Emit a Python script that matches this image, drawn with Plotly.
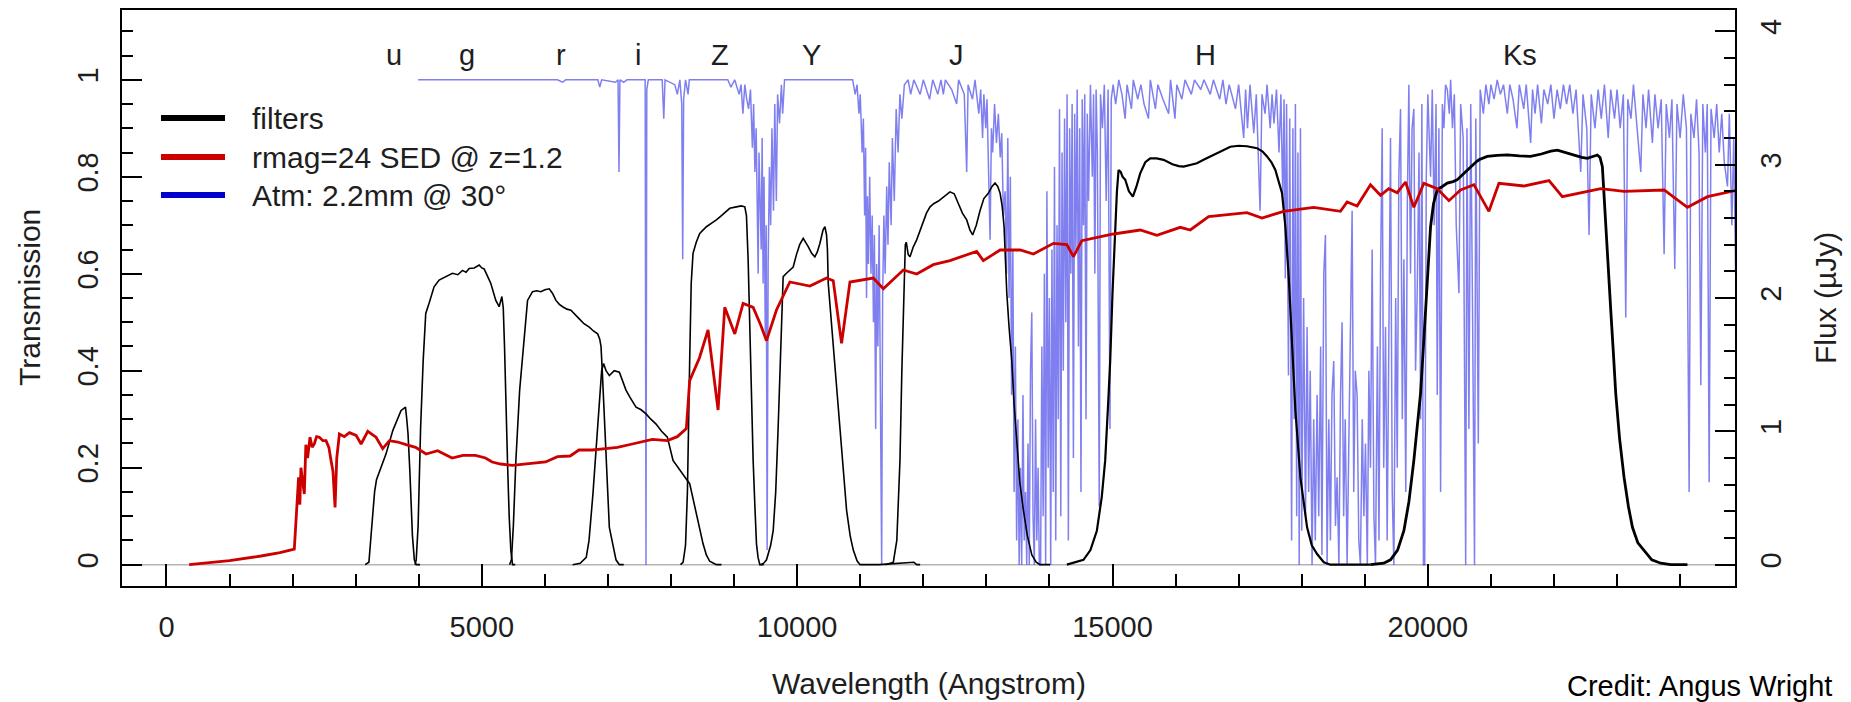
import plotly.graph_objects as go

# ---------------------------------------------------------------- data
# Filter transmission curves (wavelength in Angstrom, transmission 0-1)
u_wave = [3150, 3210, 3250, 3300, 3330, 3400, 3480, 3590, 3670, 3720, 3760, 3790, 3810, 3830, 3860, 3880, 3900, 3930, 3960, 4020]
u_trans = [0.0, 0.005, 0.07, 0.15, 0.175, 0.2, 0.228, 0.277, 0.30, 0.318, 0.322, 0.325, 0.30, 0.27, 0.19, 0.13, 0.06, 0.01, 0.0, 0.0]

g_wave = [3940, 3960, 3990, 4030, 4070, 4111, 4164, 4243, 4323, 4450, 4534, 4620, 4693, 4750, 4799, 4880, 4958, 5000, 5037, 5090, 5143, 5222, 5275, 5318, 5340, 5360, 5381, 5410, 5434, 5460, 5487, 5530]
g_trans = [0.0, 0.01, 0.08, 0.284, 0.42, 0.518, 0.539, 0.573, 0.587, 0.595, 0.601, 0.598, 0.607, 0.603, 0.611, 0.612, 0.618, 0.612, 0.61, 0.595, 0.58, 0.545, 0.532, 0.553, 0.53, 0.45, 0.33, 0.2, 0.1, 0.03, 0.0, 0.0]

r_wave = [5440, 5470, 5500, 5540, 5600, 5672, 5725, 5804, 5870, 5937, 6000, 6069, 6120, 6175, 6230, 6281, 6350, 6413, 6480, 6545, 6620, 6704, 6770, 6837, 6870, 6890, 6910, 6940, 6969, 7000, 7022, 7050, 7075, 7100, 7128, 7180, 7250]
r_trans = [0.0, 0.01, 0.08, 0.215, 0.36, 0.476, 0.545, 0.563, 0.565, 0.563, 0.567, 0.569, 0.56, 0.545, 0.537, 0.532, 0.527, 0.525, 0.515, 0.507, 0.497, 0.49, 0.482, 0.476, 0.465, 0.45, 0.40, 0.30, 0.215, 0.14, 0.077, 0.06, 0.04, 0.03, 0.01, 0.0, 0.0]

i_wave = [6440, 6560, 6656, 6700, 6762, 6820, 6868, 6900, 6931, 6970, 7022, 7100, 7181, 7230, 7286, 7350, 7445, 7520, 7604, 7680, 7763, 7850, 7942, 8032, 8110, 8191, 8250, 8296, 8350, 8402, 8460, 8508, 8560, 8613, 8719, 8800]
i_trans = [0.0, 0.003, 0.015, 0.05, 0.146, 0.26, 0.353, 0.40, 0.415, 0.40, 0.39, 0.40, 0.397, 0.38, 0.36, 0.345, 0.325, 0.32, 0.311, 0.30, 0.29, 0.275, 0.263, 0.215, 0.20, 0.187, 0.175, 0.167, 0.135, 0.105, 0.07, 0.043, 0.02, 0.007, 0.0, 0.0]

Z_wave = [8150, 8191, 8230, 8260, 8296, 8320, 8349, 8400, 8455, 8561, 8650, 8719, 8800, 8880, 8931, 9037, 9110, 9170, 9196, 9223, 9240, 9260, 9280, 9302, 9330, 9355, 9380, 9408, 9470]
Z_trans = [0.0, 0.005, 0.04, 0.15, 0.421, 0.58, 0.642, 0.665, 0.683, 0.697, 0.705, 0.711, 0.72, 0.73, 0.735, 0.738, 0.74, 0.738, 0.72, 0.628, 0.53, 0.421, 0.30, 0.215, 0.12, 0.043, 0.015, 0.0, 0.0]

Y_wave = [9420, 9470, 9514, 9580, 9620, 9660, 9699, 9740, 9778, 9831, 9880, 9937, 9990, 10040, 10096, 10140, 10175, 10230, 10281, 10320, 10361, 10410, 10440, 10466, 10480, 10493, 10530, 10572, 10620, 10678, 10730, 10784, 10840, 10890, 10950, 10996, 11300, 11500, 11700, 11850, 11895, 11950]
Y_trans = [0.0, 0.003, 0.01, 0.04, 0.07, 0.15, 0.284, 0.45, 0.594, 0.601, 0.608, 0.614, 0.64, 0.66, 0.673, 0.665, 0.656, 0.642, 0.635, 0.645, 0.663, 0.69, 0.697, 0.68, 0.65, 0.58, 0.52, 0.456, 0.37, 0.284, 0.19, 0.112, 0.06, 0.03, 0.008, 0.0, 0.0, 0.002, 0.003, 0.005, 0.0, 0.0]

J_wave = [11400, 11525, 11580, 11630, 11660, 11694, 11715, 11730, 11760, 11789, 11840, 11895, 11950, 12001, 12050, 12107, 12170, 12240, 12330, 12423, 12490, 12556, 12620, 12688, 12740, 12783, 12840, 12899, 12960, 13031, 13090, 13137, 13180, 13218, 13250, 13281, 13300, 13324, 13360, 13403, 13440, 13482, 13530, 13588, 13650, 13721, 13790, 13853, 14011]
J_trans = [0.0, 0.005, 0.05, 0.215, 0.40, 0.56, 0.66, 0.665, 0.64, 0.635, 0.655, 0.67, 0.69, 0.711, 0.725, 0.738, 0.745, 0.75, 0.76, 0.769, 0.765, 0.745, 0.725, 0.711, 0.69, 0.68, 0.70, 0.73, 0.755, 0.766, 0.78, 0.787, 0.78, 0.766, 0.74, 0.697, 0.63, 0.56, 0.49, 0.421, 0.33, 0.25, 0.17, 0.112, 0.06, 0.02, 0.005, 0.0, 0.0]

H_wave = [14276, 14540, 14650, 14752, 14830, 14884, 14930, 14964, 15000, 15043, 15070, 15096, 15130, 15160, 15202, 15260, 15323, 15380, 15439, 15520, 15598, 15700, 15810, 15950, 16050, 16127, 16230, 16339, 16444, 16550, 16656, 16760, 16868, 17000, 17132, 17291, 17380, 17450, 17520, 17582, 17640, 17688, 17741, 17794, 17847, 17900, 17979, 18085, 18160, 18244, 18350, 18455, 19090]
H_trans = [0.0, 0.01, 0.03, 0.07, 0.14, 0.215, 0.33, 0.421, 0.56, 0.697, 0.77, 0.814, 0.81, 0.80, 0.794, 0.77, 0.759, 0.78, 0.807, 0.83, 0.838, 0.838, 0.835, 0.826, 0.822, 0.821, 0.824, 0.828, 0.835, 0.842, 0.848, 0.856, 0.862, 0.864, 0.863, 0.859, 0.852, 0.842, 0.83, 0.814, 0.79, 0.766, 0.697, 0.594, 0.456, 0.318, 0.18, 0.077, 0.04, 0.022, 0.005, 0.0, 0.0]

Ks_wave = [19090, 19300, 19408, 19520, 19620, 19700, 19778, 19840, 19884, 19930, 19964, 20000, 20043, 20090, 20149, 20230, 20308, 20400, 20467, 20570, 20678, 20760, 20810, 20942, 21100, 21260, 21450, 21630, 21800, 21950, 22054, 22180, 22318, 22440, 22529, 22620, 22688, 22730, 22767, 22790, 22820, 22860, 22900, 22940, 22979, 23040, 23111, 23180, 23244, 23330, 23429, 23550, 23693, 23850, 24116]
Ks_trans = [0.0, 0.003, 0.01, 0.03, 0.07, 0.13, 0.215, 0.29, 0.353, 0.45, 0.525, 0.61, 0.697, 0.745, 0.773, 0.78, 0.787, 0.79, 0.794, 0.807, 0.821, 0.83, 0.835, 0.842, 0.844, 0.845, 0.843, 0.842, 0.847, 0.853, 0.855, 0.85, 0.845, 0.84, 0.838, 0.842, 0.845, 0.84, 0.821, 0.77, 0.697, 0.61, 0.525, 0.44, 0.353, 0.26, 0.18, 0.12, 0.077, 0.045, 0.029, 0.01, 0.003, 0.0, 0.0]

filter_names = ["u", "g", "r", "i", "Z", "Y", "J", "H", "Ks"]
filter_label_wave = [3600, 4760, 6250, 7480, 8780, 10220, 12520, 16480, 21460]

# Galaxy SED (wavelength in Angstrom, flux in microJansky)
sed_wave = [360, 600, 1000, 1500, 1800, 2027, 2053, 2075, 2095, 2115, 2132, 2160, 2186, 2210, 2238, 2276, 2310, 2344, 2380, 2424, 2480, 2530, 2575, 2610, 2640, 2673, 2700, 2742, 2820, 2901, 3007, 3086, 3192, 3323, 3429, 3535, 3667, 3800, 3950, 4116, 4300, 4529, 4700, 4900, 5058, 5164, 5300, 5481, 5700, 6011, 6200, 6400, 6540, 6750, 6963, 7150, 7386, 7704, 7942, 8100, 8243, 8296, 8450, 8587, 8746, 8852, 9011, 9143, 9302, 9420, 9514, 9672, 9884, 10202, 10466, 10572, 10704, 10837, 11207, 11366, 11683, 11895, 12159, 12423, 12846, 12952, 13218, 13535, 13746, 14064, 14276, 14381, 14514, 15016, 15439, 15704, 16074, 16233, 16524, 16762, 17132, 17370, 17714, 18190, 18614, 18720, 18878, 19090, 19249, 19381, 19514, 19646, 19778, 19937, 20149, 20334, 20519, 20730, 20968, 21127, 21524, 21921, 22132, 22741, 23111, 23746, 24116, 24434, 24910]
sed_flux = [0.0, 0.01, 0.03, 0.065, 0.09, 0.116, 0.356, 0.50, 0.655, 0.45, 0.727, 0.62, 0.53, 0.90, 0.80, 0.956, 0.88, 0.905, 0.96, 0.956, 0.93, 0.93, 0.88, 0.78, 0.70, 0.43, 0.80, 0.98, 0.96, 0.99, 0.97, 0.905, 1.0, 0.956, 0.87, 0.93, 0.92, 0.90, 0.88, 0.83, 0.855, 0.80, 0.82, 0.82, 0.80, 0.77, 0.755, 0.745, 0.755, 0.77, 0.81, 0.815, 0.86, 0.86, 0.87, 0.88, 0.905, 0.94, 0.93, 0.96, 1.02, 1.38, 1.55, 1.76, 1.16, 1.93, 1.73, 1.96, 1.93, 1.80, 1.68, 1.91, 2.12, 2.09, 2.15, 2.13, 1.66, 2.12, 2.15, 2.07, 2.21, 2.18, 2.25, 2.28, 2.35, 2.28, 2.36, 2.36, 2.33, 2.41, 2.40, 2.31, 2.43, 2.48, 2.51, 2.47, 2.53, 2.51, 2.61, 2.62, 2.64, 2.60, 2.65, 2.68, 2.65, 2.72, 2.69, 2.85, 2.77, 2.82, 2.79, 2.87, 2.68, 2.86, 2.82, 2.73, 2.81, 2.85, 2.65, 2.86, 2.84, 2.88, 2.76, 2.82, 2.80, 2.81, 2.68, 2.76, 2.81]

# Atmospheric transmission, 2.2 mm PWV at 30 degrees from zenith
atm_wave = [3990, 6200, 6280, 6330, 6840, 6870, 6900, 7120, 7160, 7175, 7190, 7250, 7300, 7590, 7603, 7616, 7640, 7860, 7885, 7905, 8060, 8100, 8140, 8170, 8185, 8200, 8230, 8270, 8290, 8900, 8950, 9010, 9080, 9110, 9140, 9170, 9200, 9230, 9260, 9290, 9310, 9330, 9350, 9370, 9382, 9395, 9410, 9430, 9445, 9460, 9475, 9495, 9510, 9524, 9540, 9560, 9580, 9600, 9625, 9645, 9670, 9690, 9720, 9750, 9770, 9800,
            10880, 10920, 10950, 10980, 11000, 11030, 11050, 11070, 11085, 11100, 11115, 11130, 11150, 11170, 11190, 11210, 11225, 11245, 11260, 11280, 11300, 11320, 11340, 11355, 11375, 11395, 11420, 11440, 11460, 11490, 11510, 11540, 11570, 11600, 11630, 11660, 11700, 11760, 11800, 11850, 11950, 12000, 12100, 12150, 12230, 12280, 12318, 12350, 12450, 12529, 12560, 12650, 12688, 12710, 12780, 12820, 12880, 12910, 12940, 12960, 12990, 13010, 13030, 13059, 13080, 13100, 13130, 13160, 13190, 13220, 13244, 13270, 13297, 13320, 13340, 13360, 13380, 13400, 13420, 13440, 13460, 13480, 13500, 13520, 13540, 13560, 13580, 13600, 13620, 13640, 13660, 13680, 13700, 13720, 13740, 13760, 13780, 13800, 13820, 13840, 13860, 13880, 13900, 13920, 13940, 13960, 13980,
            14000, 14020, 14040, 14060, 14080, 14100, 14120, 14140, 14160, 14180, 14200, 14220, 14240, 14260, 14280, 14300, 14320, 14340, 14360, 14380, 14400, 14420, 14440, 14460, 14480, 14500, 14520, 14540, 14560, 14580, 14600, 14620, 14650, 14680, 14700, 14720, 14740, 14760, 14790, 14810, 14840, 14870, 14900, 14930, 14960, 14980, 15010, 15050, 15100, 15150, 15200, 15230, 15300, 15330, 15400, 15450, 15500, 15570, 15600, 15680, 15720, 15800, 15890, 15920, 15990, 16020, 16100, 16150, 16250, 16300, 16400, 16450, 16550, 16600, 16700, 16750, 16800, 16850, 16950, 17000, 17080, 17110, 17140, 17180, 17240, 17280, 17340, 17370, 17420, 17450, 17500, 17530, 17560, 17600, 17640, 17670, 17700, 17720, 17740, 17760, 17790, 17810, 17840, 17860, 17880, 17900, 17920, 17940, 17960, 17980,
            18000, 18030, 18060, 18085, 18110, 18135, 18164, 18190, 18215, 18244, 18270, 18300, 18320, 18350, 18376, 18402, 18430, 18455, 18480, 18508, 18535, 18561, 18590, 18615, 18640, 18665, 18690, 18720, 18745, 18770, 18799, 18825, 18850, 18878, 18905, 18931, 18960, 18985, 19011, 19040, 19065, 19090, 19117, 19145, 19170, 19200, 19225, 19250, 19276, 19300, 19329, 19355, 19380, 19408, 19435, 19461, 19490, 19515, 19540, 19567, 19595, 19620, 19650, 19675, 19699, 19725, 19750, 19778, 19805, 19831, 19860, 19885, 19905, 19930, 19950, 19975,
            20000, 20043, 20070, 20100, 20130, 20149, 20175, 20202, 20230, 20255, 20280, 20308, 20340, 20361, 20390, 20420, 20450, 20493, 20520, 20560, 20600, 20620, 20651, 20680, 20710, 20740, 20760, 20800, 20830, 20880, 20920, 20968, 21000, 21050, 21100, 21150, 21200, 21260, 21300, 21350, 21413, 21450, 21520, 21560, 21630, 21660, 21700, 21740, 21800, 21840, 21900, 21950, 22000, 22050, 22100, 22150, 22200, 22250, 22300, 22350, 22424, 22460, 22520, 22556, 22590, 22650, 22700, 22750, 22800, 22860, 22900, 22960, 23000, 23050, 23100, 23138, 23170, 23220, 23260, 23320, 23376, 23410, 23460, 23500, 23560, 23600, 23650, 23700, 23746, 23780, 23830, 23870, 23915, 23950,
            24000, 24050, 24100, 24143, 24170, 24220, 24260, 24300, 24328, 24360, 24400, 24430, 24460, 24490, 24540, 24580, 24620, 24660, 24700, 24751, 24780, 24820, 24850, 24880, 24910]
atm_trans = [1.0, 1.0, 0.995, 1.0, 1.0, 0.985, 1.0, 0.995, 1.0, 0.81, 1.0, 0.995, 1.0, 1.0, 0.0, 0.98, 1.0, 1.0, 0.92, 1.0, 0.99, 0.97, 1.0, 0.95, 0.63, 0.96, 1.0, 0.97, 1.0, 1.0, 0.985, 1.0, 0.97, 0.99, 0.93, 0.99, 0.96, 0.94, 0.98, 0.86, 0.95, 0.81, 0.9, 0.72, 0.6, 0.85, 0.75, 0.65, 0.88, 0.58, 0.8, 0.47, 0.7, 0.03, 0.62, 0.82, 0.7, 0.9, 0.73, 0.95, 0.75, 0.97, 0.91, 0.99, 0.93, 1.0,
             1.0, 0.97, 0.99, 0.93, 0.97, 0.85, 0.92, 0.72, 0.86, 0.55, 0.76, 0.62, 0.8, 0.6, 0.72, 0.5, 0.68, 0.28, 0.62, 0.45, 0.7, 0.27, 0.0, 0.55, 0.72, 0.6, 0.78, 0.66, 0.83, 0.7, 0.88, 0.75, 0.94, 0.85, 0.97, 0.92, 0.99, 1.0, 0.97, 1.0, 0.97, 1.0, 0.96, 1.0, 0.97, 1.0, 0.97, 1.0, 0.98, 0.95, 1.0, 0.97, 0.81, 0.99, 0.96, 1.0, 0.93, 0.98, 0.88, 0.97, 0.9, 0.96, 0.82, 0.67, 0.9, 0.85, 0.95, 0.87, 0.93, 0.84, 0.89, 0.72, 0.77, 0.6, 0.88, 0.55, 0.8, 0.35, 0.65, 0.15, 0.45, 0.05, 0.3, 0.0, 0.2, 0.0, 0.35, 0.05, 0.15, 0.0, 0.25, 0.0, 0.4, 0.52, 0.1, 0.0, 0.3, 0.05, 0.2, 0.0, 0.0, 0.45, 0.1, 0.6, 0.0, 0.77, 0.2,
             0.55, 0.0, 0.65, 0.15, 0.82, 0.05, 0.7, 0.3, 0.94, 0.1, 0.85, 0.4, 0.92, 0.5, 0.97, 0.05, 0.9, 0.6, 0.95, 0.22, 0.93, 0.65, 0.98, 0.45, 0.9, 0.15, 0.96, 0.7, 0.97, 0.3, 0.93, 0.75, 0.99, 0.8, 0.97, 0.6, 0.98, 0.85, 0.12, 0.97, 0.9, 0.99, 0.75, 0.98, 0.28, 0.96, 0.99, 0.95, 1.0, 0.97, 0.92, 0.99, 0.94, 1.0, 0.96, 0.99, 0.95, 0.92, 1.0, 0.94, 0.99, 0.96, 0.93, 1.0, 0.92, 0.99, 0.96, 1.0, 0.97, 1.0, 0.98, 1.0, 0.97, 1.0, 0.96, 1.0, 0.95, 0.99, 0.94, 0.99, 0.88, 0.98, 0.9, 0.99, 0.89, 0.97, 0.73, 0.97, 0.93, 0.99, 0.9, 0.97, 0.91, 0.98, 0.85, 0.97, 0.75, 0.96, 0.59, 0.95, 0.39, 0.92, 0.05, 0.9, 0.3, 0.95, 0.1, 0.85, 0.0, 0.9,
             0.07, 0.55, 0.1, 0.49, 0.15, 0.4, 0.0, 0.3, 0.05, 0.35, 0.1, 0.45, 0.02, 0.6, 0.68, 0.0, 0.3, 0.05, 0.35, 0.42, 0.08, 0.18, 0.0, 0.35, 0.5, 0.1, 0.3, 0.0, 0.25, 0.55, 0.73, 0.15, 0.4, 0.35, 0.05, 0.0, 0.3, 0.1, 0.25, 0.0, 0.4, 0.2, 0.65, 0.1, 0.0, 0.45, 0.05, 0.6, 0.9, 0.2, 0.49, 0.05, 0.5, 0.88, 0.15, 0.0, 0.55, 0.2, 0.8, 0.94, 0.3, 0.63, 0.15, 0.75, 0.99, 0.6, 0.9, 0.94, 0.4, 0.56, 0.85, 0.3, 0.95, 0.0, 0.0, 0.8,
             0.97, 0.8, 0.98, 0.7, 0.95, 0.35, 0.9, 0.15, 0.95, 0.9, 0.99, 0.98, 0.93, 1.0, 0.9, 0.97, 0.7, 0.56, 0.95, 0.88, 0.0, 0.9, 0.28, 0.95, 0.5, 0.0, 0.92, 0.25, 0.98, 0.93, 0.99, 0.95, 0.99, 0.96, 1.0, 0.97, 0.99, 0.93, 0.99, 0.96, 0.9, 0.99, 0.94, 0.99, 0.87, 0.98, 0.93, 0.99, 0.91, 0.98, 0.95, 0.99, 0.92, 0.98, 0.94, 0.99, 0.95, 0.99, 0.93, 0.98, 0.81, 0.97, 0.9, 0.68, 0.97, 0.9, 0.98, 0.92, 0.99, 0.88, 0.98, 0.92, 0.98, 0.9, 0.97, 0.51, 0.96, 0.92, 0.99, 0.9, 0.81, 0.97, 0.9, 0.98, 0.87, 0.97, 0.9, 0.96, 0.64, 0.95, 0.88, 0.96, 0.61, 0.95,
             0.88, 0.97, 0.9, 0.15, 0.93, 0.88, 0.96, 0.85, 0.37, 0.95, 0.85, 0.95, 0.17, 0.94, 0.88, 0.95, 0.85, 0.93, 0.83, 0.78, 0.93, 0.7, 0.88, 0.6, 0.7]

# ---------------------------------------------------------------- layout geometry (pixels)
W, H = 1851, 702
L, R, T, B = 122, 116, 10, 116
PW, PH = W - L - R, H - T - B
X_RANGE = [-705, 24870]
T_RANGE = [-0.044, 1.144]
F_RANGE = [v * 4 / 1.1 for v in T_RANGE]

FONT = "Liberation Sans, Arial, Helvetica, sans-serif"
INK = "#1e1e1e"
RED = "#cd0000"
ATM = "rgba(0,0,225,0.5)"


def px(x):
    return (x - L) / PW


def py(y):
    return (H - B - y) / PH


fig = go.Figure()

# atmosphere underneath everything
fig.add_trace(go.Scatter(x=atm_wave, y=atm_trans, mode="lines",
                         line=dict(color=ATM, width=1.5), hoverinfo="skip"))

filters = [(u_wave, u_trans, 1.6), (g_wave, g_trans, 1.6), (r_wave, r_trans, 1.6),
           (i_wave, i_trans, 1.6), (Z_wave, Z_trans, 1.6), (Y_wave, Y_trans, 1.6),
           (J_wave, J_trans, 1.6), (H_wave, H_trans, 2.2), (Ks_wave, Ks_trans, 2.8)]
for wv, tr, lw in filters:
    fig.add_trace(go.Scatter(x=wv, y=tr, mode="lines",
                             line=dict(color="black", width=lw), hoverinfo="skip"))

fig.add_trace(go.Scatter(x=sed_wave, y=sed_flux, mode="lines", yaxis="y2",
                         line=dict(color=RED, width=2.8), hoverinfo="skip"))

tick_font = dict(family=FONT, size=29, color=INK)
fig.update_layout(
    width=W, height=H, showlegend=False,
    margin=dict(l=L, r=R, t=T, b=B, autoexpand=False),
    paper_bgcolor="white", plot_bgcolor="white",
    font=dict(family=FONT, color=INK),
    xaxis=dict(range=X_RANGE, showgrid=False, zeroline=False,
               showline=True, mirror=True, linecolor="black", linewidth=2,
               ticks="inside", ticklen=22, tickwidth=1.5, tickcolor="black",
               tick0=0, dtick=5000, tickformat="d", tickfont=tick_font, ticklabelstandoff=14,
               minor=dict(ticks="inside", ticklen=12, tickwidth=1.5, tickcolor="black", dtick=1000, tick0=0),
               automargin=False),
    yaxis=dict(range=T_RANGE, showgrid=False, zeroline=False,
               showline=True, mirror=True, linecolor="black", linewidth=2,
               ticks="inside", ticklen=20, tickwidth=1.5, tickcolor="black",
               tick0=0, dtick=0.2, tickangle=-90, tickfont=tick_font, ticklabelstandoff=10,
               minor=dict(ticks="inside", ticklen=11, tickwidth=1.5, tickcolor="black", dtick=0.05, tick0=0),
               automargin=False),
    yaxis2=dict(range=F_RANGE, overlaying="y", side="right", showgrid=False, zeroline=False,
                showline=False, ticks="inside", ticklen=20, tickwidth=1.5, tickcolor="black",
                tick0=0, dtick=1, tickangle=-90, tickfont=tick_font, ticklabelstandoff=16,
                minor=dict(ticks="inside", ticklen=11, tickwidth=1.5, tickcolor="black", dtick=0.2, tick0=0),
                automargin=False),
)

# zero-transmission reference line
fig.add_shape(type="line", xref="paper", x0=0, x1=1, yref="y", y0=0, y1=0,
              line=dict(color="#b4b4b4", width=1.5), layer="below")

# filter names along the top
for name, wl in zip(filter_names, filter_label_wave):
    fig.add_annotation(x=wl, y=1.051, xref="x", yref="y", text=name, showarrow=False,
                       xanchor="center", yanchor="middle",
                       font=dict(family=FONT, size=29, color=INK))

# legend drawn by hand
legend_rows = [("filters", "black", 118), ("rmag=24 SED @ z=1.2", RED, 157),
               ("Atm: 2.2mm @ 30°", "#0000cd", 195)]
for label, col, yy in legend_rows:
    fig.add_shape(type="line", xref="paper", yref="paper", x0=px(161), x1=px(225),
                  y0=py(yy), y1=py(yy), line=dict(color=col, width=6))
    fig.add_annotation(x=px(250), y=py(yy), xref="paper", yref="paper", text=label,
                       showarrow=False, xanchor="left", yanchor="middle",
                       font=dict(family=FONT, size=30, color=INK))

# axis titles and credit
title_font = dict(family=FONT, size=30, color=INK)
fig.add_annotation(x=px(929), y=py(683), xref="paper", yref="paper", text="Wavelength (Angstrom)",
                   showarrow=False, xanchor="center", yanchor="middle", font=title_font)
fig.add_annotation(x=px(29), y=py(298), xref="paper", yref="paper", text="Transmission",
                   showarrow=False, xanchor="center", yanchor="middle", textangle=-90, font=title_font)
fig.add_annotation(x=px(1825), y=py(298), xref="paper", yref="paper", text="Flux (µJy)",
                   showarrow=False, xanchor="center", yanchor="middle", textangle=-90, font=title_font)
fig.add_annotation(x=px(1834), y=py(686), xref="paper", yref="paper", text="Credit: Angus Wright",
                   showarrow=False, xanchor="right", yanchor="middle",
                   font=dict(family=FONT, size=29, color="black"))

fig.write_html("out.html")
